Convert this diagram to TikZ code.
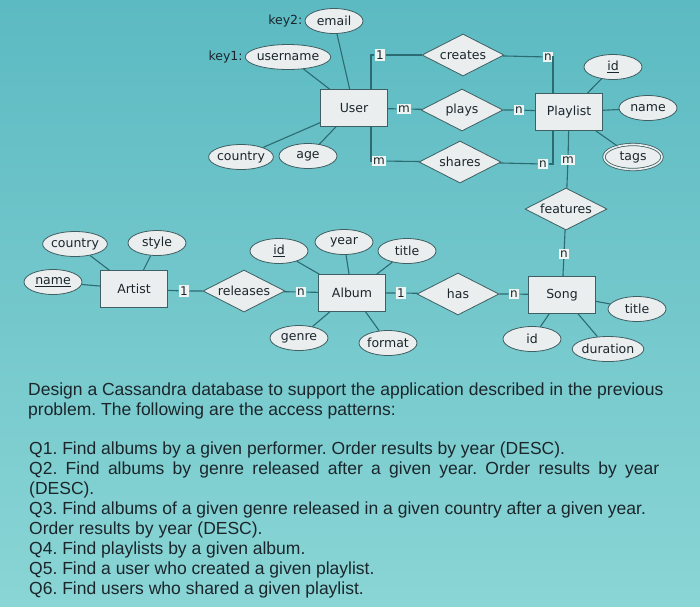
\documentclass[tikz,border=0pt]{standalone}
\usepackage{fontspec}
\setmainfont{DejaVu Sans}
\newfontfamily\qfont{Liberation Sans}
\usetikzlibrary{shapes.geometric,positioning}
\definecolor{bgtop}{HTML}{5CBAC2}
\definecolor{bgbot}{HTML}{8AD5D5}
\definecolor{shp}{HTML}{EBEEEE}
\definecolor{rim}{HTML}{3E5F63}
\definecolor{lnc}{HTML}{2C6B72}
\definecolor{ink}{HTML}{1B262C}
\definecolor{cardbg}{HTML}{EDF4F2}
\tikzset{
  lbl/.style={font=\fontsize{12.5}{14}\selectfont,text=ink},
  ent/.style={lbl,draw=rim,fill=shp,line width=0.8pt,minimum width=67pt,minimum height=37pt},
  rel/.style={lbl,diamond,draw=rim,fill=shp,line width=0.8pt,inner sep=0pt,aspect=2,minimum width=82pt,minimum height=42pt},
  attr/.style={lbl,ellipse,draw=rim,fill=shp,line width=0.8pt,inner xsep=-1pt,inner ysep=1pt,minimum width=58pt,minimum height=25pt},
  mattr/.style={attr,double=shp,double distance=1.6pt},
  card/.style={fill=cardbg,inner sep=1.5pt,font=\fontsize{12}{13}\selectfont,text=ink},
  keylab/.style={lbl,inner sep=0pt},
  lnk/.style={draw=lnc,line width=1.1pt},
  qtext/.style={font=\qfont\fontsize{17.5}{20}\selectfont\frenchspacing,text=ink,align=left,inner sep=0pt},
}
\begin{document}
\begin{tikzpicture}[x=1pt,y=-1pt]
\useasboundingbox (0,0) rectangle (700,606);
\fill[top color=bgtop,bottom color=bgbot] (0,0) rectangle (700,606);

% entities
\node[ent] (user) at (354,108) {User};
\node[ent] (playlist) at (569,112) {Playlist};
\node[ent] (artist) at (134,289) {Artist};
\node[ent] (album) at (352,293) {Album};
\node[ent] (song) at (562,295) {Song};

% relationships
\node[rel] (creates) at (463,55) {creates};
\node[rel] (plays) at (462,110) {plays};
\node[rel] (shares) at (460,162) {shares};
\node[rel] (features) at (566,209) {features};
\node[rel] (releases) at (244,291) {releases};
\node[rel] (has) at (458,294) {has};

% attributes
\node[attr] (email) at (334,21) {email};
\node[attr] (uname) at (288,57) {username};
\node[keylab,left=2pt of email] (k2) {key2:};
\node[keylab,left=2pt of uname] (k1) {key1:};
\node[attr] (ucountry) at (241,157) {country};
\node[attr] (uage) at (308,156) {age};
\node[attr] (pid) at (613,67) {\underline{id}};
\node[attr] (pname) at (648,108) {name};
\node[mattr] (ptags) at (633,157) {tags};
\node[attr] (acountry) at (75,244) {country};
\node[attr] (astyle) at (157,243) {style};
\node[attr] (aname) at (53,282) {\underline{name}};
\node[attr] (alid) at (279,251) {\underline{id}};
\node[attr] (alyear) at (344,242) {year};
\node[attr] (altitle) at (407,251) {title};
\node[attr] (algenre) at (299,338) {genre};
\node[attr] (alformat) at (388,343) {format};
\node[attr] (stitle) at (637,309) {title};
\node[attr] (sid) at (532,339) {id};
\node[attr] (sdur) at (608,349) {duration};

% cardinalities
\node[card] (c1) at (380,55) {1};
\node[card] (m1) at (404,109) {m};
\node[card] (m2) at (379,161) {m};
\node[card] (n1) at (548,57) {n};
\node[card] (n2) at (519,110) {n};
\node[card] (n3) at (543,164) {n};
\node[card] (m3) at (568,160) {m};
\node[card] (n4) at (564,254) {n};
\node[card] (c2) at (184,291) {1};
\node[card] (n5) at (301,292) {n};
\node[card] (c3) at (401,293) {1};
\node[card] (n6) at (514,294) {n};

% attribute links
\foreach \a/\e in {email/user,uname/user,ucountry/user,uage/user,
  pid/playlist,pname/playlist,ptags/playlist,
  acountry/artist,astyle/artist,aname/artist,
  alid/album,alyear/album,altitle/album,algenre/album,alformat/album,
  stitle/song,sid/song,sdur/song}
  \draw[lnk] (\a) -- (\e);

% relationship links
\draw[lnk] ([xshift=17pt]user.north) |- (c1.west);
\draw[lnk] (c1) -- (creates);
\draw[lnk] (creates) -- (n1);
\draw[lnk] (n1.east) -| ([xshift=-16pt]playlist.north);
\draw[lnk] (user) -- (m1) -- (plays);
\draw[lnk] (plays) -- (n2) -- (playlist);
\draw[lnk] ([xshift=17pt]user.south) |- (m2.west);
\draw[lnk] (m2) -- (shares);
\draw[lnk] (shares) -- (n3);
\draw[lnk] (n3.east) -| ([xshift=-16pt]playlist.south);
\draw[lnk] (playlist) -- (m3) -- (features);
\draw[lnk] (features) -- (n4) -- (song);
\draw[lnk] (artist) -- (c2) -- (releases);
\draw[lnk] (releases) -- (n5) -- (album);
\draw[lnk] (album) -- (c3) -- (has);
\draw[lnk] (has) -- (n6) -- (song);

% question text
\node[qtext,anchor=base west] (intro) at (28,415)
  {Design a Cassandra database to support the application described in the previous\\
   problem. The following are the access patterns:};
\node[qtext,anchor=base west] (qs) at (29,594)
  {Q1. Find albums by a given performer. Order results by year (DESC).\\
   \makebox[630pt][s]{Q2. Find albums by genre released after a given year. Order results by year}\\
   (DESC).\\
   Q3. Find albums of a given genre released in a given country after a given year.\\
   Order results by year (DESC).\\
   Q4. Find playlists by a given album.\\
   Q5. Find a user who created a given playlist.\\
   Q6. Find users who shared a given playlist.};
\end{tikzpicture}
\end{document}
